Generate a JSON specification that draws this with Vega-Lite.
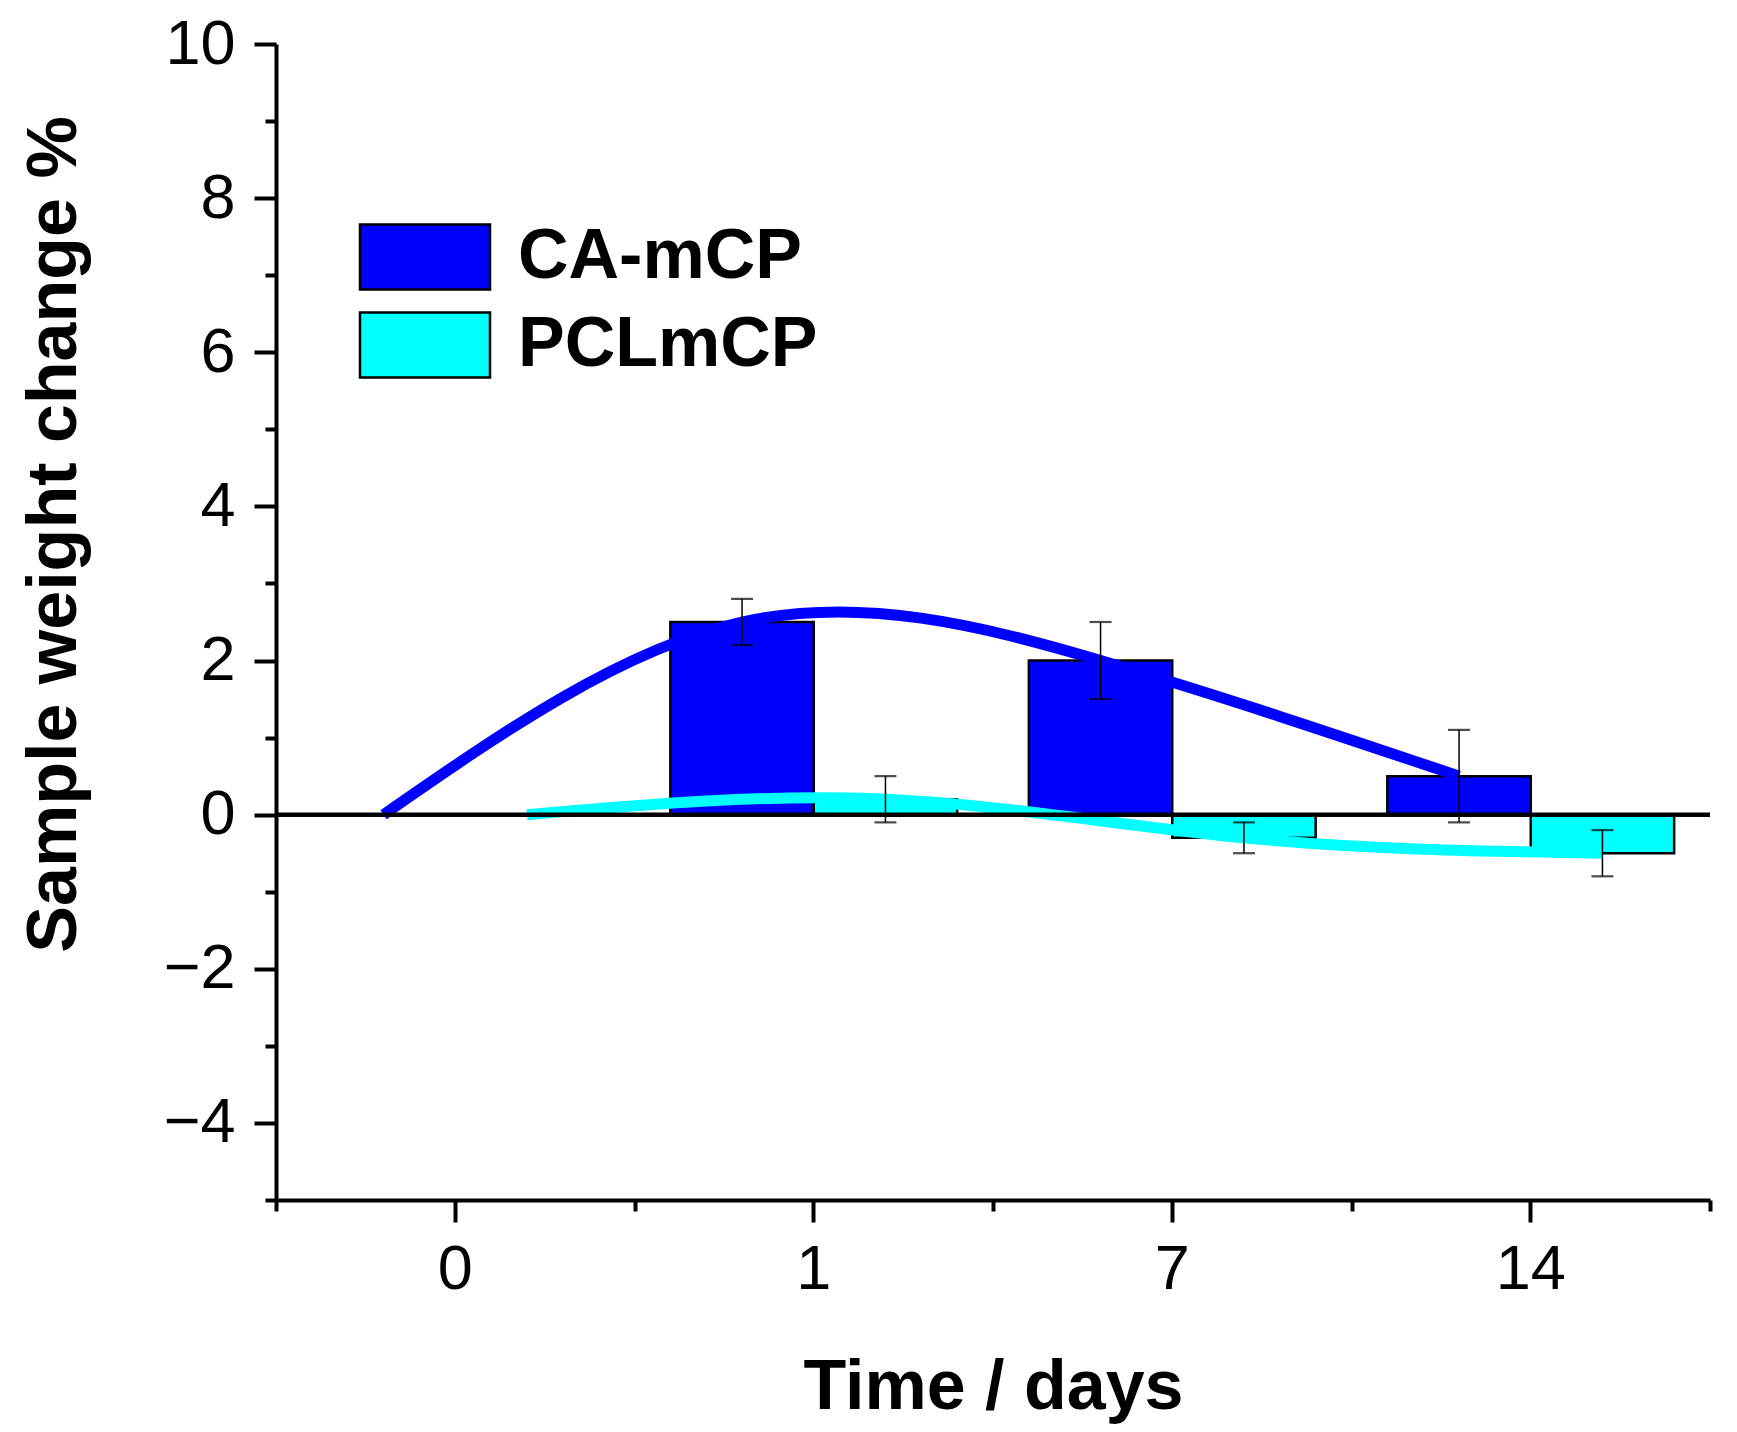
{
  "$schema": "https://vega.github.io/schema/vega-lite/v6.json",
  "width": 1434,
  "height": 1156,
  "autosize": {"type": "none"},
  "padding": {"left": 276, "top": 44, "right": 27, "bottom": 232},
  "background": "white",
  "config": {
    "view": {"stroke": null},
    "font": "Liberation Sans",
    "axis": {
      "grid": false,
      "domainColor": "black",
      "domainWidth": 4,
      "tickColor": "black",
      "tickWidth": 4,
      "labelColor": "black",
      "labelFont": "Liberation Sans",
      "labelFontSize": 63,
      "labelFlush": false,
      "labelOverlap": false,
      "labelBound": false,
      "titleColor": "black",
      "titleFont": "Liberation Sans",
      "titleFontSize": 70,
      "titleFontWeight": "bold"
    }
  },
  "data": {
    "values": [
      {"day": "0", "sample": "CA-mCP", "change": 0, "lo": null, "hi": null},
      {"day": "0", "sample": "PCLmCP", "change": 0, "lo": null, "hi": null},
      {"day": "1", "sample": "CA-mCP", "change": 2.5, "lo": 2.2, "hi": 2.8},
      {"day": "1", "sample": "PCLmCP", "change": 0.2, "lo": -0.1, "hi": 0.5},
      {"day": "7", "sample": "CA-mCP", "change": 2.0, "lo": 1.5, "hi": 2.5},
      {"day": "7", "sample": "PCLmCP", "change": -0.3, "lo": -0.5, "hi": -0.1},
      {"day": "14", "sample": "CA-mCP", "change": 0.5, "lo": -0.1, "hi": 1.1},
      {"day": "14", "sample": "PCLmCP", "change": -0.5, "lo": -0.8, "hi": -0.2}
    ]
  },
  "resolve": {"axis": {"x": "independent"}},
  "layer": [
    {
      "mark": {"type": "bar", "stroke": "black", "strokeWidth": 2.5},
      "encoding": {
        "x": {
          "field": "day",
          "type": "ordinal",
          "sort": ["0", "1", "7", "14"],
          "scale": {"paddingInner": 0, "paddingOuter": 0},
          "axis": {
            "orient": "bottom",
            "title": "Time / days",
            "labelAngle": 0,
            "tickSize": 22,
            "labelPadding": 16,
            "titleY": 208,
            "titleBaseline": "alphabetic"
          }
        },
        "xOffset": {
          "field": "sample",
          "sort": ["CA-mCP", "PCLmCP"],
          "scale": {"paddingInner": 0, "paddingOuter": 0.25}
        },
        "y": {
          "field": "change",
          "type": "quantitative",
          "scale": {"domain": [-5, 10], "nice": false, "zero": false},
          "axis": {
            "orient": "left",
            "values": [-5, -4, -3, -2, -1, 0, 1, 2, 3, 4, 5, 6, 7, 8, 9, 10],
            "format": "d",
            "labelExpr": "datum.value % 2 === 0 ? datum.label : ''",
            "tickSize": {"condition": {"test": "datum.value % 2 === 0", "value": 22}, "value": 11},
            "labelPadding": 19,
            "title": "Sample weight change %",
            "titleAngle": 270,
            "titleX": -201,
            "titleY": 490,
            "titleAlign": "center",
            "titleBaseline": "alphabetic"
          }
        },
        "fill": {
          "field": "sample",
          "type": "nominal",
          "scale": {"domain": ["CA-mCP", "PCLmCP"], "range": ["#0000ff", "#00ffff"]},
          "legend": {
            "orient": "none",
            "legendX": 114,
            "legendY": 178,
            "title": null,
            "padding": 0,
            "symbolType": "M-2,-1H2V1H-2Z",
            "symbolSize": 4225,
            "symbolStrokeColor": "black",
            "symbolStrokeWidth": 2.5,
            "symbolOpacity": 1,
            "labelFont": "Liberation Sans",
            "labelFontSize": 70,
            "labelFontWeight": "bold",
            "labelColor": "black",
            "labelOffset": 58,
            "labelLimit": 0,
            "rowPadding": 12,
            "encode": {
              "symbols": {
                "update": {
                  "stroke": {"value": "black"},
                  "strokeWidth": {"value": 2.5}
                }
              }
            }
          }
        }
      }
    },
    {
      "transform": [{"filter": "datum.sample === 'CA-mCP'"}],
      "mark": {"type": "line", "interpolate": "natural", "strokeWidth": 11, "color": "#0000ff"},
      "encoding": {
        "x": {"field": "day", "type": "ordinal", "sort": ["0", "1", "7", "14"], "axis": null},
        "xOffset": {"field": "sample", "sort": ["CA-mCP", "PCLmCP"]},
        "y": {"field": "change", "type": "quantitative"}
      }
    },
    {
      "transform": [{"filter": "datum.sample === 'PCLmCP'"}],
      "mark": {"type": "line", "interpolate": "natural", "strokeWidth": 11, "color": "#00ffff"},
      "encoding": {
        "x": {"field": "day", "type": "ordinal", "sort": ["0", "1", "7", "14"], "axis": null},
        "xOffset": {"field": "sample", "sort": ["CA-mCP", "PCLmCP"]},
        "y": {"field": "change", "type": "quantitative"}
      }
    },
    {
      "data": {"values": [{"level": 0}]},
      "mark": {"type": "rule", "color": "black", "strokeWidth": 4.5},
      "encoding": {"y": {"field": "level", "type": "quantitative"}}
    },
    {
      "transform": [{"filter": "datum.lo != null"}],
      "mark": {"type": "rule", "color": "black", "strokeWidth": 1.5},
      "encoding": {
        "x": {
          "field": "day",
          "type": "ordinal",
          "sort": ["0", "1", "7", "14"],
          "axis": {
            "orient": "bottom",
            "labels": false,
            "title": null,
            "domain": false,
            "tickBand": "extent",
            "tickSize": 11
          }
        },
        "xOffset": {"field": "sample", "sort": ["CA-mCP", "PCLmCP"]},
        "y": {"field": "lo", "type": "quantitative"},
        "y2": {"field": "hi"}
      }
    },
    {
      "transform": [{"filter": "datum.lo != null"}],
      "mark": {"type": "tick", "orient": "horizontal", "color": "black", "size": 22, "thickness": 2.2},
      "encoding": {
        "x": {"field": "day", "type": "ordinal", "sort": ["0", "1", "7", "14"], "axis": null},
        "xOffset": {"field": "sample", "sort": ["CA-mCP", "PCLmCP"]},
        "y": {"field": "lo", "type": "quantitative"}
      }
    },
    {
      "transform": [{"filter": "datum.lo != null"}],
      "mark": {"type": "tick", "orient": "horizontal", "color": "black", "size": 22, "thickness": 2.2},
      "encoding": {
        "x": {"field": "day", "type": "ordinal", "sort": ["0", "1", "7", "14"], "axis": null},
        "xOffset": {"field": "sample", "sort": ["CA-mCP", "PCLmCP"]},
        "y": {"field": "hi", "type": "quantitative"}
      }
    }
  ]
}
